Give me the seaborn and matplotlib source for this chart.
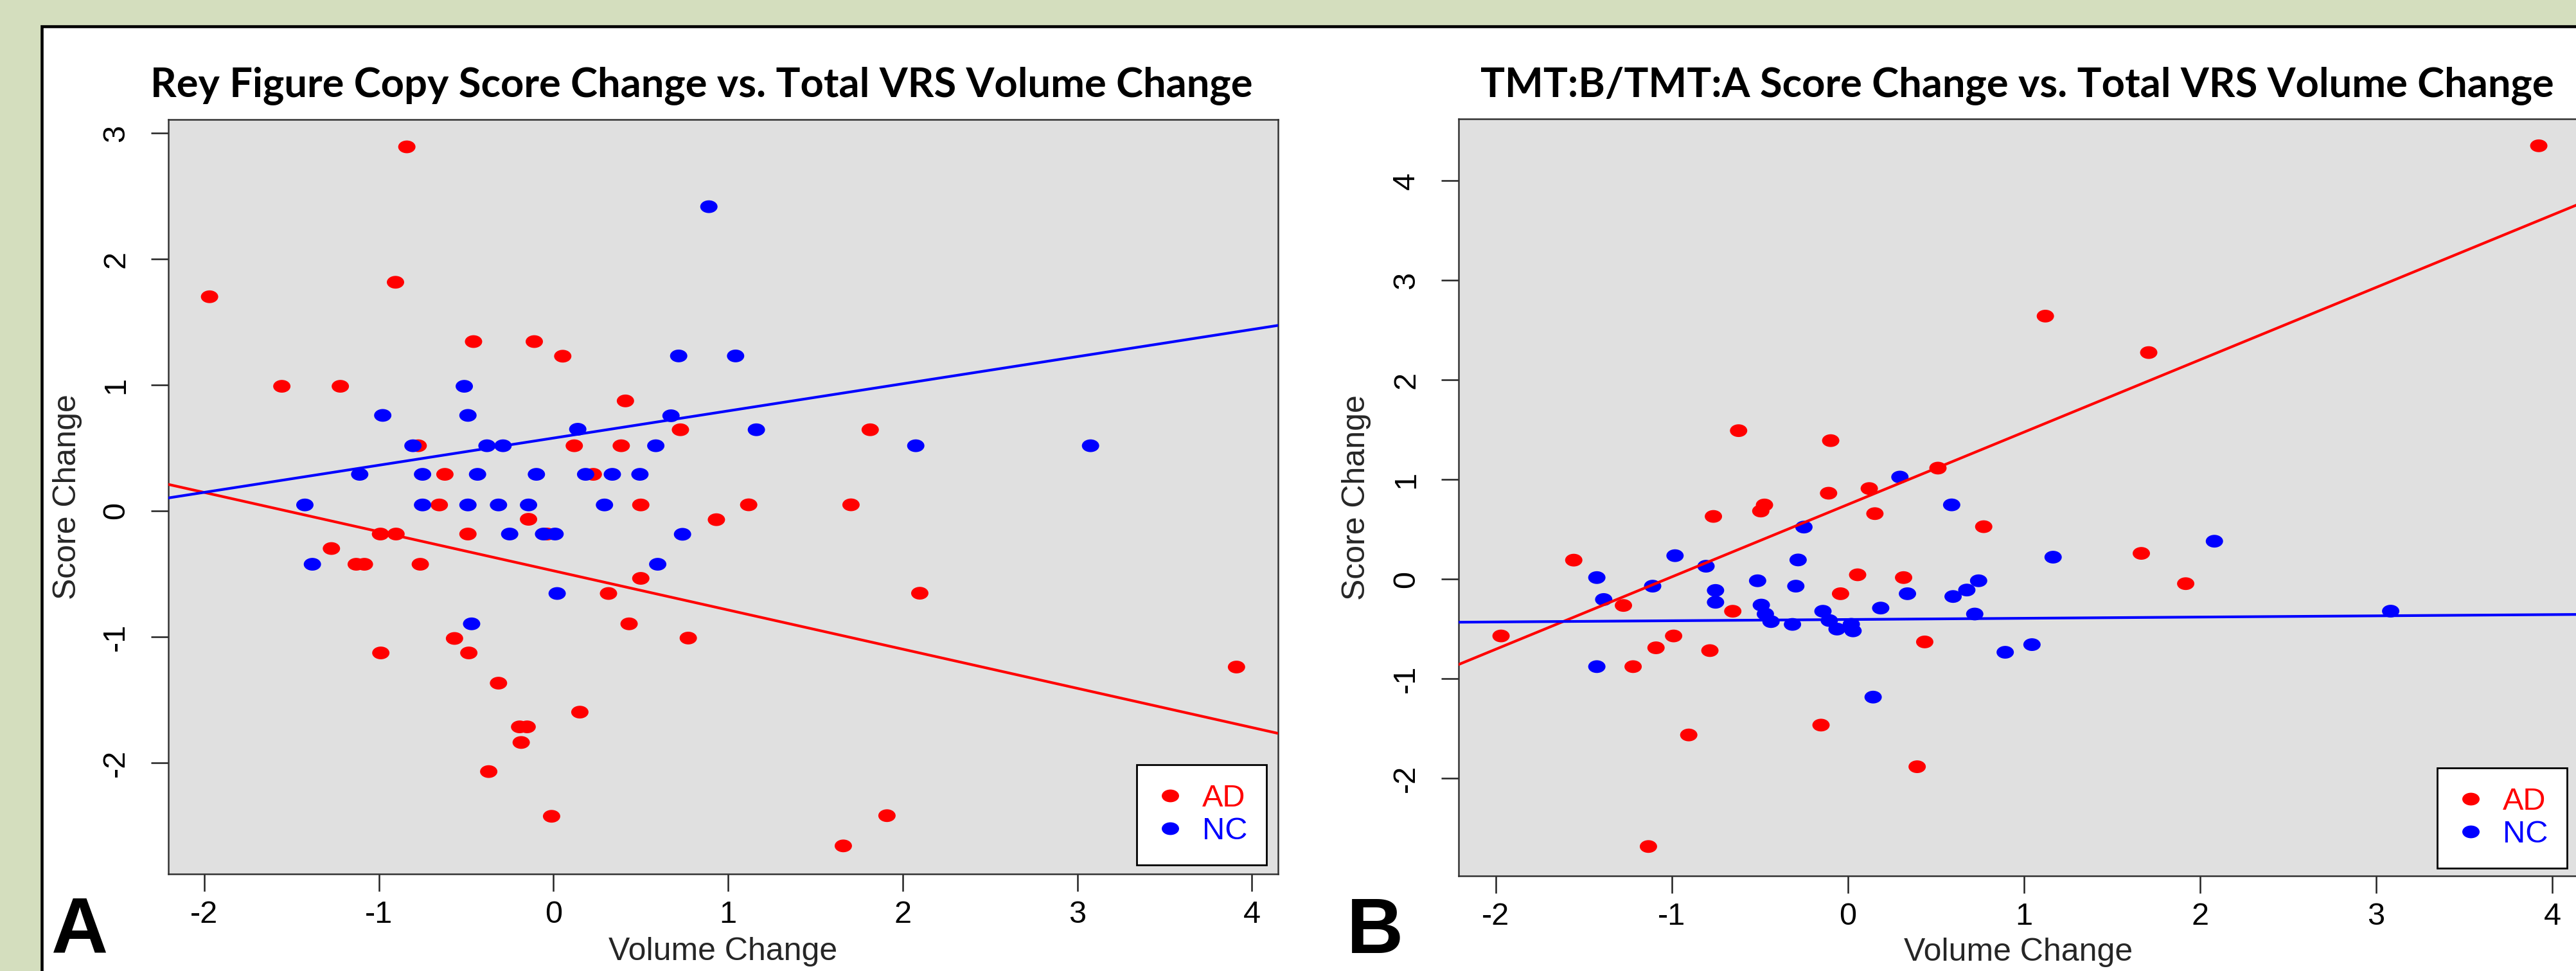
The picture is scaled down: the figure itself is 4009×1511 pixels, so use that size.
import matplotlib
matplotlib.use("Agg")
import matplotlib.pyplot as plt
import seaborn as sns
import pandas as pd
from matplotlib.path import Path
from matplotlib.transforms import Affine2D
from matplotlib.lines import Line2D
from matplotlib.patches import Rectangle

# ---------------- data ----------------
groups = ["AD", "NC"]
group_colors = {"AD": "#ff0000", "NC": "#0000ff"}
x_ticks = [-2, -1, 0, 1, 2, 3, 4]
rey_y_ticks = [-2, -1, 0, 1, 2, 3]
tmt_y_ticks = [-2, -1, 0, 1, 2, 3, 4]
x_label = "Volume Change"
y_label = "Score Change"
rey_title = "Rey Figure Copy Score Change vs. Total VRS Volume Change"
tmt_title = "TMT:B/TMT:A Score Change vs. Total VRS Volume Change"
panel_letters = ["A", "B"]

rey_ad_vol = [-1.97, -0.84, -0.905, -0.458, -0.11, 0.053, -1.556, -1.221, 0.412, -0.775,
              0.119, 0.388, 0.727, 1.814, -0.622, 0.228, -0.654, 0.50, 1.118, 1.704,
              -0.143, 0.933, -0.991, -0.902, -0.49, -0.036, -1.272, -1.13, -1.083, -0.763,
              0.315, 0.50, 2.098, 0.433, -0.567, -0.989, -0.485, 0.772, -0.315, 0.151,
              -0.194, -0.151, -0.185, -0.371, -0.011, 1.91, 1.66, 3.912]
rey_ad_score = [1.70, 2.89, 1.815, 1.344, 1.344, 1.228, 0.989, 0.989, 0.873, 0.517,
                0.517, 0.517, 0.644, 0.644, 0.29, 0.29, 0.047, 0.047, 0.048, 0.048,
                -0.067, -0.07, -0.184, -0.184, -0.184, -0.184, -0.299, -0.424, -0.424, -0.424,
                -0.656, -0.536, -0.654, -0.897, -1.013, -1.128, -1.128, -1.01, -1.368, -1.598,
                -1.715, -1.715, -1.839, -2.07, -2.425, -2.42, -2.66, -1.24]
rey_nc_vol = [-0.511, -0.978, -0.49, 0.139, -0.805, -0.381, -0.289, -1.11, -0.75, -0.435,
              -0.098, 0.184, 0.337, 0.495, -1.424, -0.75, -0.49, -0.315, -0.143, 0.292,
              -0.251, -0.057, 0.009, -1.381, 0.021, -0.469, 0.89, 0.717, 1.043, 0.673,
              1.162, 0.586, 2.075, 3.076, 0.739, 0.597]
rey_nc_score = [0.989, 0.758, 0.758, 0.648, 0.517, 0.517, 0.517, 0.29, 0.29, 0.29,
                0.29, 0.29, 0.29, 0.29, 0.047, 0.047, 0.047, 0.047, 0.047, 0.047,
                -0.184, -0.184, -0.184, -0.424, -0.656, -0.897, 2.415, 1.23, 1.23, 0.755,
                0.644, 0.517, 0.517, 0.517, -0.186, -0.424]

tmt_ad_vol = [-1.969, -1.556, -1.274, -1.219, -1.132, -1.089, -0.989, -0.903, -0.783, -0.763,
              -0.653, -0.62, -0.494, -0.473, -0.152, -0.109, -0.097, -0.041, 0.056, 0.122,
              0.154, 0.317, 0.394, 0.437, 0.512, 0.772, 1.122, 1.667, 1.709, 1.919, 3.924]
tmt_ad_score = [-0.571, 0.19, -0.265, -0.879, -2.685, -0.69, -0.571, -1.565, -0.718, 0.629,
                -0.323, 1.49, 0.683, 0.744, -1.466, 0.862, 1.39, -0.147, 0.043, 0.909,
                0.657, 0.015, -1.884, -0.631, 1.114, 0.526, 2.64, 0.258, 2.274, -0.046, 4.35]
tmt_nc_vol = [-1.425, -1.386, -1.425, -1.108, -0.981, -0.805, -0.751, -0.751, -0.512, -0.491,
              -0.468, -0.436, -0.314, -0.295, -0.282, -0.249, -0.141, -0.105, -0.061, 0.02,
              0.03, 0.144, 0.187, 0.296, 0.339, 0.59, 0.598, 0.676, 0.743, 0.721,
              0.894, 1.046, 1.166, 2.082, 3.083]
tmt_nc_score = [0.015, -0.205, -0.879, -0.071, 0.235, 0.129, -0.114, -0.233, -0.017, -0.261,
                -0.351, -0.427, -0.455, -0.071, 0.192, 0.522, -0.323, -0.416, -0.502, -0.454,
                -0.52, -1.185, -0.291, 1.024, -0.147, 0.745, -0.175, -0.11, -0.017, -0.351,
                -0.735, -0.658, 0.22, 0.38, -0.322]

# fitted lines (intercept, slope)
rey_fit = {"AD": (-0.476, -0.311), "NC": (0.578, 0.2155)}
tmt_fit = {"AD": (0.748, 0.7266), "NC": (-0.406, 0.0123)}

# ---------------- style ----------------
sns.set_style("ticks")
plt.rcParams["font.family"] = ["Liberation Sans", "DejaVu Sans"]

W, H = 4009, 1511
DPI = 100
fig = plt.figure(figsize=(W / DPI, H / DPI), dpi=DPI, facecolor="#d4debe")

# white panel with black frame (only top/left edges inside the image)
frame = Rectangle((65 / W, -0.2), 2.0, 1.2 - 40.5 / H, transform=fig.transFigure,
                  facecolor="white", edgecolor="black", linewidth=3.3, zorder=-5)
fig.add_artist(frame)

ellipse = Affine2D().scale(1.36, 1.0).transform_path(Path.unit_circle())
MS = 19.4
FS = 35


def px_axes(l, t, r, b):
    return fig.add_axes([l / W, 1 - b / H, (r - l) / W, (b - t) / H])


def draw_panel(ax, ad_x, ad_y, nc_x, nc_y, fit, xlim, ylim, yticks, xlab_y, leg_anchor):
    df = pd.DataFrame({
        "vol": list(ad_x) + list(nc_x),
        "score": list(ad_y) + list(nc_y),
        "group": ["AD"] * len(ad_x) + ["NC"] * len(nc_x),
    })
    ax.set_facecolor("#e0e0e0")
    sns.scatterplot(data=df, x="vol", y="score", hue="group", hue_order=groups,
                    palette=group_colors, marker=ellipse, s=MS ** 2, linewidth=0,
                    legend=False, ax=ax, zorder=2)
    for g in groups:
        b0, m = fit[g]
        ax.axline((0, b0), slope=m, color=group_colors[g], linewidth=3, zorder=3)
    ax.set_xlim(*xlim)
    ax.set_ylim(*ylim)
    ax.set_xticks(x_ticks)
    ax.set_xticklabels([str(v) for v in x_ticks])
    ax.set_yticks(yticks)
    ax.set_yticklabels([str(v) for v in yticks])
    for sp in ax.spines.values():
        sp.set_color("#333333")
        sp.set_linewidth(1.8)
    ax.tick_params(axis="both", direction="out", length=19.4, width=1.8,
                   color="#222222", labelsize=FS, labelcolor="black")
    ax.tick_params(axis="x", pad=10)
    ax.tick_params(axis="y", pad=23, labelrotation=90)
    plt.setp(ax.get_yticklabels(), va="center")
    ax.set_xlabel(x_label, fontsize=FS + 1, va="center")
    ax.xaxis.set_label_coords(0.5, xlab_y)
    ax.set_ylabel(y_label, fontsize=FS + 1, va="center")
    ax.yaxis.set_label_coords(-0.091, 0.5)

    handles = [Line2D([], [], marker=ellipse, markersize=MS, markeredgewidth=0,
                      linestyle="none", color=group_colors[g]) for g in groups]
    leg = ax.legend(handles, groups, loc="lower right", bbox_to_anchor=leg_anchor,
                    borderaxespad=0, fontsize=FS, frameon=True, fancybox=False,
                    edgecolor="black", framealpha=1, facecolor="white",
                    borderpad=0.62, labelspacing=0.12, handlelength=0.92,
                    handletextpad=0.55)
    leg.get_frame().set_linewidth(2)
    for txt, g in zip(leg.get_texts(), groups):
        txt.set_color(group_colors[g])


ax1 = px_axes(262, 186, 1989, 1360)
draw_panel(ax1, rey_ad_vol, rey_ad_score, rey_nc_vol, rey_nc_score, rey_fit,
           (-2.206, 4.15), (-2.883, 3.107), rey_y_ticks,
           (1360 - 1481) / 1174, (0.9896, 0.012))

ax2 = px_axes(2270, 185, 4013, 1363)
draw_panel(ax2, tmt_ad_vol, tmt_ad_score, tmt_nc_vol, tmt_nc_score, tmt_fit,
           (-2.21, 4.15), (-2.98, 4.62), tmt_y_ticks,
           (1363 - 1482) / 1178, (0.9897, 0.0102))

title_kw = dict(ha="center", va="baseline", fontsize=45.5, fontweight="bold",
                family=["Lato", "DejaVu Sans"], color="black")
fig.text(1092 / W, 1 - 150 / H, rey_title, **title_kw)
fig.text(3139 / W, 1 - 150 / H, tmt_title, **title_kw)

letter_kw = dict(ha="left", va="bottom", fontsize=88, fontweight="bold",
                 family=["Liberation Sans", "DejaVu Sans"], color="black")
fig.text(80 / W, 1 - 1508 / H, panel_letters[0], **letter_kw)
fig.text(2096 / W, 1 - 1508 / H, panel_letters[1], **letter_kw)

fig.savefig("out.png", dpi=DPI, facecolor=fig.get_facecolor())
